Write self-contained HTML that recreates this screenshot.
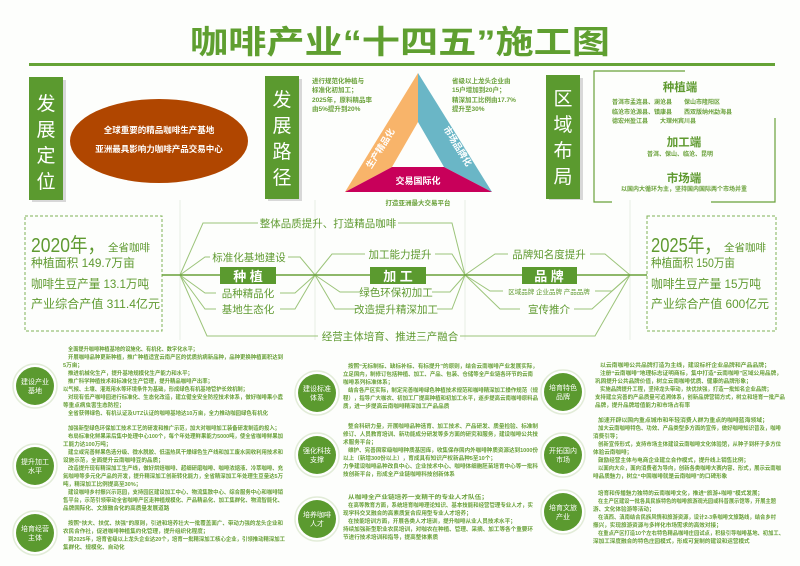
<!DOCTYPE html>
<html><head><meta charset="utf-8"><style>
html,body{margin:0;padding:0;background:#fff;}
svg{display:block;font-family:"Liberation Sans","Noto Sans CJK SC",sans-serif;}
.s{font-size:5.6px;fill:#6aa13a;font-weight:bold;}
.m{font-size:10.5px;fill:#5f9a30;}
</style></head><body>
<svg width="800" height="566" viewBox="0 0 800 566" xmlns="http://www.w3.org/2000/svg">
<rect width="800" height="566" fill="#fdfefc"/>
<text x="400" y="53" text-anchor="middle" font-size="32" font-weight="bold" fill="#5f9f30" textLength="420" lengthAdjust="spacingAndGlyphs">咖啡产业“十四五”施工图</text>
<rect x="29" y="63" width="746" height="3" fill="#65a336"/>

<rect x="32" y="80" width="34" height="122" fill="#d8d8d8"/>
<rect x="29" y="77" width="34" height="123" fill="#5b9a2f"/>
<g font-size="19" fill="#fff" text-anchor="middle"><text x="46" y="110">发</text><text x="46" y="136">展</text><text x="46" y="162">定</text><text x="46" y="188">位</text></g>
<ellipse cx="159" cy="141" rx="89" ry="42" fill="#b04600"/>
<text x="159" y="133" text-anchor="middle" font-size="8.5" font-weight="bold" fill="#fff">全球重要的精品咖啡生产基地</text>
<text x="159" y="152" text-anchor="middle" font-size="8.5" font-weight="bold" fill="#fff">亚洲最具影响力咖啡产品交易中心</text>

<rect x="268" y="79" width="34" height="122" fill="#d8d8d8"/>
<rect x="265" y="76" width="34" height="123" fill="#5b9a2f"/>
<g font-size="19" fill="#fff" text-anchor="middle"><text x="282" y="106">发</text><text x="282" y="132">展</text><text x="282" y="158">路</text><text x="282" y="184">径</text></g>
<g class="s" style="font-size:6.5px"><text x="312" y="83">进行规范化种植与</text><text x="312" y="92">标准化初加工；</text><text x="312" y="102">2025年，原料精品率</text><text x="312" y="111">由5%提升到20%</text></g>
<g class="s" style="font-size:6.5px"><text x="452" y="83">省级以上龙头企业由</text><text x="452" y="92">15户增加到20户；</text><text x="452" y="102">精深加工比例由17.7%</text><text x="452" y="111">提升至30%</text></g>
<polygon points="418,73 345,192 392,167 418,122" fill="#f8b46a"/>
<polygon points="418,73 492,192 444,167 418,122" fill="#6ab6c6"/>
<polygon points="345,192 492,192 444,167 392,167" fill="#c8005a"/>
<text x="383" y="150" font-size="9" font-weight="bold" fill="#fff" text-anchor="middle" transform="rotate(-58 383 150)">生产精品化</text>
<text x="455" y="148" font-size="9" font-weight="bold" fill="#fff" text-anchor="middle" transform="rotate(58 455 148)">市场品牌化</text>
<text x="418" y="184" font-size="9" font-weight="bold" fill="#fff" text-anchor="middle">交易国际化</text>
<text x="418" y="205" font-size="6.5" font-weight="bold" fill="#6aa13a" text-anchor="middle">打造亚洲最大交易平台</text>

<rect x="549" y="78" width="34" height="122" fill="#d8d8d8"/>
<rect x="546" y="75" width="34" height="124" fill="#5b9a2f"/>
<g font-size="19" fill="#fff" text-anchor="middle"><text x="563" y="105">区</text><text x="563" y="131">域</text><text x="563" y="157">布</text><text x="563" y="183">局</text></g>
<g stroke="#6aa13a" stroke-width="1.2" fill="none">
<polyline points="685,71 594,71 594,202 612,202"/><polyline points="711,202 775,202 775,118"/></g>
<g text-anchor="middle" fill="#5f9a30" font-size="11.5" font-weight="bold">
<text x="680" y="91">种植端</text>
<text x="684" y="146">加工端</text>
<text x="684" y="182">市场端</text></g>
<g class="s" style="font-size:6px">
<text x="612" y="104">普洱市孟连县、澜沧县　　保山市隆阳区</text>
<text x="612" y="114">临沧市沧源县、镇康县　　西双版纳州勐海县</text>
<text x="612" y="123">德宏州盈江县　　大理州宾川县</text>
<text x="680" y="156" text-anchor="middle">普洱、保山、临沧、昆明</text>
<text x="684" y="191" text-anchor="middle">以国内大循环为主，坚持国内国际两个市场并重</text></g>

<g stroke="#e8ede4" stroke-width="1"><line x1="180" y1="200" x2="180" y2="340"/><line x1="315" y1="200" x2="315" y2="340"/><line x1="465" y1="200" x2="465" y2="340"/><line x1="630" y1="200" x2="630" y2="340"/></g>

<rect x="25" y="216" width="137" height="115" fill="none" stroke="#7fb356" stroke-dasharray="3,2"/>
<rect x="647" y="216" width="129" height="115" fill="none" stroke="#7fb356" stroke-dasharray="3,2"/>
<g fill="#5f9a30">
<text x="31" y="252" font-size="20" textLength="74" lengthAdjust="spacingAndGlyphs">2020年，</text><text x="108" y="251" font-size="10.5">全省咖啡</text>
<text x="31" y="267" font-size="12" textLength="104" lengthAdjust="spacingAndGlyphs">种植面积 149.7万亩</text>
<text x="31" y="288" font-size="12" textLength="118" lengthAdjust="spacingAndGlyphs">咖啡生豆产量 13.1万吨</text>
<text x="31" y="308" font-size="12" textLength="129" lengthAdjust="spacingAndGlyphs">产业综合产值 311.4亿元</text>
<text x="651" y="252" font-size="20" textLength="70" lengthAdjust="spacingAndGlyphs">2025年，</text><text x="724" y="251" font-size="10.5">全省咖啡</text>
<text x="651" y="267" font-size="12" textLength="84" lengthAdjust="spacingAndGlyphs">种植面积 150万亩</text>
<text x="651" y="288" font-size="12" textLength="110" lengthAdjust="spacingAndGlyphs">咖啡生豆产量 15万吨</text>
<text x="651" y="308" font-size="12" textLength="118" lengthAdjust="spacingAndGlyphs">产业综合产值 600亿元</text></g>

<g stroke="#9cc47a" stroke-width="1" fill="none">
<polyline points="180,275 203,223 258,223"/><polyline points="398,223 452,223 465,275"/>
<polyline points="180,275 205,257 210,257"/><polyline points="288,257 300,257 315,275"/>
<polyline points="180,275 205,293 216,293"/><polyline points="280,293 295,293 315,275"/>
<polyline points="180,275 205,309 216,309"/><polyline points="280,309 295,309 315,275"/>
<polyline points="180,275 207,336 318,336"/><polyline points="460,336 595,336 630,275"/>
<polyline points="315,275 332,254 365,254"/><polyline points="435,254 452,254 465,275"/>
<polyline points="315,275 340,292 360,292"/><polyline points="432,292 450,292 465,275"/>
<polyline points="315,275 335,309 357,309"/><polyline points="437,309 452,309 465,275"/>
<polyline points="465,275 495,254 508,254"/><polyline points="590,254 605,254 630,275"/>
<polyline points="465,275 490,291 503,291"/><polyline points="595,291 612,291 630,275"/>
<polyline points="465,275 500,309 520,309"/><polyline points="574,309 592,309 630,275"/>
</g>
<line x1="162" y1="275" x2="647" y2="275" stroke="#6aa13a" stroke-width="1.5"/>
<g fill="#5b9a2f">
<rect x="220" y="267" width="56" height="17"/><rect x="370" y="267" width="56" height="17"/><rect x="522" y="267" width="55" height="17"/></g>
<g font-size="13" fill="#fff" text-anchor="middle" font-weight="bold"><text x="248" y="281">种 植</text><text x="398" y="281">加 工</text><text x="549" y="281">品 牌</text></g>
<g class="m" text-anchor="middle">
<text x="328" y="227">整体品质提升、打造精品咖啡</text>
<text x="249" y="261">标准化基地建设</text>
<text x="248" y="297">品种精品化</text>
<text x="248" y="313">基地生态化</text>
<text x="400" y="258">加工能力提升</text>
<text x="396" y="296">绿色环保初加工</text>
<text x="396" y="313">改造提升精深加工</text>
<text x="549" y="258">品牌知名度提升</text>
<text x="549" y="313">宣传推介</text>
<text x="390" y="340">经营主体培育、推进三产融合</text>
<text x="549" y="294" style="font-size:6.5px">区域品牌 企业品牌 产品品牌</text></g>

<g>
<g transform="translate(35,386)"><circle r="22" fill="#fff" stroke="#e2ecd8" stroke-width="1.5"/><circle r="19" fill="#5b9a2f"/></g>
<g transform="translate(35,466)"><circle r="22" fill="#fff" stroke="#e2ecd8" stroke-width="1.5"/><circle r="19" fill="#5b9a2f"/></g>
<g transform="translate(35,533)"><circle r="22" fill="#fff" stroke="#e2ecd8" stroke-width="1.5"/><circle r="19" fill="#5b9a2f"/></g>
<g transform="translate(317,393)"><circle r="22" fill="#fff" stroke="#e2ecd8" stroke-width="1.5"/><circle r="19" fill="#5b9a2f"/></g>
<g transform="translate(317,455)"><circle r="22" fill="#fff" stroke="#e2ecd8" stroke-width="1.5"/><circle r="19" fill="#5b9a2f"/></g>
<g transform="translate(317,519)"><circle r="22" fill="#fff" stroke="#e2ecd8" stroke-width="1.5"/><circle r="19" fill="#5b9a2f"/></g>
<g transform="translate(563,392)"><circle r="22" fill="#fff" stroke="#e2ecd8" stroke-width="1.5"/><circle r="19" fill="#5b9a2f"/></g>
<g transform="translate(563,455)"><circle r="22" fill="#fff" stroke="#e2ecd8" stroke-width="1.5"/><circle r="19" fill="#5b9a2f"/></g>
<g transform="translate(563,512)"><circle r="22" fill="#fff" stroke="#e2ecd8" stroke-width="1.5"/><circle r="19" fill="#5b9a2f"/></g>
</g>
<g font-size="7" fill="#fff" text-anchor="middle">
<text x="35" y="384">建设产业</text><text x="35" y="393">基地</text>
<text x="35" y="464">提升加工</text><text x="35" y="473">水平</text>
<text x="35" y="531">培育经营</text><text x="35" y="540">主体</text>
<text x="317" y="391">建设标准</text><text x="317" y="400">体系</text>
<text x="317" y="453">强化科技</text><text x="317" y="462">支撑</text>
<text x="317" y="517">培养咖啡</text><text x="317" y="526">人才</text>
<text x="563" y="390">培育特色</text><text x="563" y="399">品牌</text>
<text x="563" y="453">开拓国内</text><text x="563" y="462">市场</text>
<text x="563" y="510">培育文旅</text><text x="563" y="519">产业</text></g>

<g class="s">
<text x="68" y="351" textLength="130" lengthAdjust="spacingAndGlyphs">全面提升咖啡种植基地的设施化、有机化、数字化水平；</text>
<text x="68" y="359" textLength="215" lengthAdjust="spacingAndGlyphs">开展咖啡品种更新种植，推广种植适宜云南产区的优质抗病新品种，品种更换种植面积达到</text>
<text x="63" y="367">5万亩；</text>
<text x="68" y="375" textLength="125" lengthAdjust="spacingAndGlyphs">推进机械化生产，提升基地规模化生产能力和水平；</text>
<text x="68" y="383" textLength="145" lengthAdjust="spacingAndGlyphs">推广科学种植技术和标准化生产管理，提升精品咖啡产出率；</text>
<text x="63" y="391" textLength="185" lengthAdjust="spacingAndGlyphs">以气候、土壤、灌溉用水等环境条件为基础，形成绿色有机基地管护长效机制；</text>
<text x="68" y="399" textLength="215" lengthAdjust="spacingAndGlyphs">对现有低产咖啡园进行标准化、生态化改造，建立健全安全防控技术体系，做好咖啡果小蠹</text>
<text x="63" y="407">等重点病虫害生态防控；</text>
<text x="68" y="415" textLength="200" lengthAdjust="spacingAndGlyphs">全省获得绿色、有机认证及UTZ认证的咖啡基地达10万亩，全力推动咖园绿色有机化</text>
<text x="68" y="430" textLength="212" lengthAdjust="spacingAndGlyphs">加强新型绿色环保加工技术工艺的研发和推广示范，加大对咖啡加工装备研发制造的投入；</text>
<text x="68" y="438" textLength="215" lengthAdjust="spacingAndGlyphs">布局标准化鲜果采后集中处理中心100个，每个年处理鲜果能力5000吨，使全省咖啡鲜果加</text>
<text x="63" y="446">工能力达100万吨；</text>
<text x="68" y="454" textLength="215" lengthAdjust="spacingAndGlyphs">建立或完善鲜果色选分级、微水脱胶、低温热风干燥绿色生产线和加工废水回收利用技术和</text>
<text x="63" y="462">设施示范，全面提升云南咖啡豆的品质；</text>
<text x="68" y="470" textLength="215" lengthAdjust="spacingAndGlyphs">改造提升现有精深加工生产线，做好烘焙咖啡、超细研磨咖啡、咖啡浓缩液、冷萃咖啡、充</text>
<text x="63" y="478" textLength="220" lengthAdjust="spacingAndGlyphs">氮咖啡等多元化产品的开发，提升精深加工创新转化能力，全省精深加工年处理生豆量达5万</text>
<text x="63" y="486">吨，精深加工比例提高至30%；</text>
<text x="68" y="494" textLength="215" lengthAdjust="spacingAndGlyphs">建设咖啡乡村振兴示范园，支持园区建设加工中心、物流集散中心、综合服务中心和咖啡销</text>
<text x="63" y="502" textLength="220" lengthAdjust="spacingAndGlyphs">售平台，示范引领带动全省咖啡产区走种植规模化、产品精品化、加工集群化、物流智能化、</text>
<text x="63" y="510">品牌国际化、文旅融合化的高质量发展道路</text>
<text x="68" y="525" textLength="215" lengthAdjust="spacingAndGlyphs">按照“扶大、扶优、扶强”的原则，引进和培养壮大一批覆盖面广、带动力强的龙头企业和</text>
<text x="63" y="533">农民合作社，促进咖啡种植集约化管理，提升组织化程度；</text>
<text x="68" y="541" textLength="217" lengthAdjust="spacingAndGlyphs">到2025年，培育省级以上龙头企业达20个，培育一批精深加工核心企业，引领推动精深加工</text>
<text x="63" y="549">集群化、规模化、自动化</text>
</g>
<g class="s">
<text x="348" y="368" textLength="190" lengthAdjust="spacingAndGlyphs">按照“无标制标、缺标补标、有标提升”的原则，结合云南咖啡产业发展实际，</text>
<text x="343" y="376" textLength="190" lengthAdjust="spacingAndGlyphs">立足国内，制修订包括种植、加工、产品、包装、仓储等全产业链各环节的云南</text>
<text x="343" y="384">咖啡系列标准体系；</text>
<text x="348" y="392" textLength="190" lengthAdjust="spacingAndGlyphs">结合各产区实际，制定完善咖啡绿色种植技术规范和咖啡精深加工操作规范（规</text>
<text x="343" y="400" textLength="195" lengthAdjust="spacingAndGlyphs">程），指导广大咖农、初加工厂提高种植和初加工水平，逐步提高云南咖啡原料品</text>
<text x="343" y="408">质，进一步提高云南咖啡精深加工产品品质</text>
<text x="348" y="428" textLength="190" lengthAdjust="spacingAndGlyphs">整合科研力量，开展咖啡品种选育、加工技术、产品研发、质量检验、标准制</text>
<text x="343" y="436" textLength="195" lengthAdjust="spacingAndGlyphs">修订、人员教育培训、新功能成分研发等多方面的研究和服务，建设咖啡公共技</text>
<text x="343" y="444">术服务平台；</text>
<text x="348" y="452" textLength="190" lengthAdjust="spacingAndGlyphs">维护、完善国家级咖啡种质基因库，收集保存国内外咖啡种质资源达到1000份</text>
<text x="343" y="460">以上（新增300份以上），育成具有知识产权新品种5至10个；</text>
<text x="343" y="468" textLength="195" lengthAdjust="spacingAndGlyphs">力争建设咖啡品种改良中心、企业技术中心、咖啡体细胞胚苗培育中心等一批科</text>
<text x="343" y="476">技创新平台，形成全产业链咖啡科技创新体系</text>
<text x="348" y="499" textLength="140" lengthAdjust="spacingAndGlyphs">从咖啡全产业链培养一支精干的专业人才队伍；</text>
<text x="348" y="507" textLength="185" lengthAdjust="spacingAndGlyphs">在高等教育方面，系统培育咖啡理论知识、基本技能和经营管理专业人才，实</text>
<text x="343" y="515">现学科交叉融合的高素质复合应用型专业人才培养；</text>
<text x="348" y="523">在技能培训方面，开展各类人才培训，提升咖啡从业人员技术水平；</text>
<text x="343" y="531" textLength="190" lengthAdjust="spacingAndGlyphs">持续加强新型职业农民培训，对咖农在种植、管理、采摘、加工等各个重要环</text>
<text x="343" y="539">节进行技术培训和指导，提高整体素质</text>
</g>
<g class="s">
<text x="600" y="367" textLength="170" lengthAdjust="spacingAndGlyphs">以云南咖啡公共品牌打造为主线，建设标杆企业品牌和产品品牌；</text>
<text x="600" y="375" textLength="182" lengthAdjust="spacingAndGlyphs">注册“云南咖啡”地理标志证明商标，集中打造“云南咖啡”区域公用品牌，</text>
<text x="595" y="383">巩固提升公共品牌价值，树立云南咖啡优质、健康的品牌形象；</text>
<text x="600" y="391" textLength="172" lengthAdjust="spacingAndGlyphs">实施品牌提升工程，坚持龙头带动，扶优扶强，打造一批知名企业品牌；</text>
<text x="595" y="399" textLength="190" lengthAdjust="spacingAndGlyphs">支持建立完善的产品质量可追溯体系，创新品牌营销方式，树立和培育一批产品</text>
<text x="595" y="407">品牌，提升品牌增值能力和市场占有率</text>
<text x="598" y="422" textLength="170" lengthAdjust="spacingAndGlyphs">加速开辟以国内重点城市和年轻消费人群为重点的咖啡蓝海领域；</text>
<text x="598" y="430" textLength="183" lengthAdjust="spacingAndGlyphs">加大云南咖啡特色、功效、产品类型多方面的宣传，做好咖啡知识普及，咖啡</text>
<text x="593" y="438">消费引导；</text>
<text x="598" y="446" textLength="183" lengthAdjust="spacingAndGlyphs">创新宣传形式，支持市场主体建设云南咖啡文化体验馆，从种子到杯子多方位</text>
<text x="593" y="454">体验云南咖啡；</text>
<text x="598" y="462">鼓励经营主体与电商企业建立合作模式，提升线上销售比例；</text>
<text x="598" y="470" textLength="183" lengthAdjust="spacingAndGlyphs">以面向大众，面向消费者为导向，创新各类咖啡大赛内容、形式，展示云南咖</text>
<text x="593" y="478">啡品质魅力，树立“中国咖啡就是云南咖啡”的口碑形象</text>
<text x="598" y="495" textLength="165" lengthAdjust="spacingAndGlyphs">培育和传播魅力独特的云南咖啡文化，推进“旅游+咖啡”模式发展；</text>
<text x="598" y="503" textLength="178" lengthAdjust="spacingAndGlyphs">在主产区建设一批各具民族特色的咖啡旅游观光园或科普展示馆等，开展主题</text>
<text x="593" y="511">游、文化体验游等活动；</text>
<text x="598" y="519" textLength="178" lengthAdjust="spacingAndGlyphs">在滇西、滇南结合民族风情和旅游资源，设计2-3条咖啡文旅路线，结合乡村</text>
<text x="593" y="527">振兴，实现旅游资源与多样化市场需求的高效对接；</text>
<text x="598" y="535" textLength="186" lengthAdjust="spacingAndGlyphs">在重点产区打造10个左右特色精品咖啡庄园试点，积极引导咖啡基地、初加工、</text>
<text x="593" y="543">深加工深度融合的特色庄园模式，形成可复制的建设和运营模式</text>
</g>
</svg>
</body></html>
